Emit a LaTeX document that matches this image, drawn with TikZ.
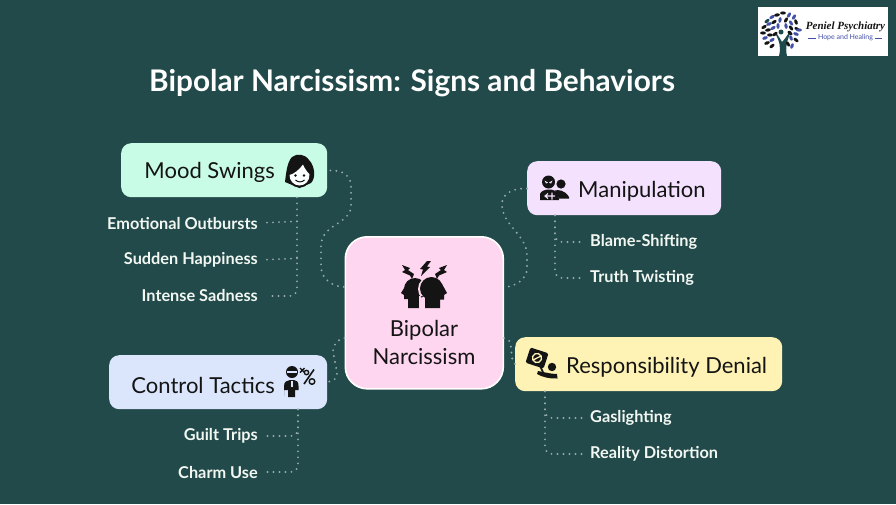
\documentclass[tikz,border=0pt]{standalone}
\usepackage{fontspec}
\setmainfont{Lato}
\newfontfamily\logofont{Liberation Serif}
\usetikzlibrary{calc}
\definecolor{bgc}{HTML}{224A4A}
\definecolor{dotc}{HTML}{93ABA8}
\definecolor{moodc}{HTML}{C8FCE6}
\definecolor{centc}{HTML}{FFD6EF}
\definecolor{manic}{HTML}{F3E1FD}
\definecolor{respc}{HTML}{FEF3B4}
\definecolor{ctrlc}{HTML}{DBE6FD}
\definecolor{subc}{HTML}{F2F7F2}
\definecolor{inkc}{HTML}{141414}
\definecolor{logob}{HTML}{4350A8}
\definecolor{logot}{HTML}{1F4A4C}
\tikzset{
  x=1pt,y=-1pt,
  boxn/.style={rounded corners=10pt,inner sep=0pt,anchor=north west},
  lab/.style={font=\fontsize{22}{25}\selectfont,text=inkc,inner sep=0pt},
  subr/.style={font=\fontsize{16.3}{19}\selectfont\bfseries,text=subc,inner sep=0pt,anchor=east},
  subl/.style={font=\fontsize{16.3}{19}\selectfont\bfseries,text=subc,inner sep=0pt,anchor=west},
  dotbase/.style={draw=dotc,line width=2.1pt,line cap=round,dash pattern=on 0pt off 6pt},
  dotl/.style={dotbase,rounded corners=7pt},
  dotb/.style={dotl,shorten >=8pt},
}
\begin{document}
\begin{tikzpicture}
\useasboundingbox (0,0) rectangle (896,504);
\fill[bgc] (0,0) rectangle (896,504);

% title
\node[inner sep=0pt,text=white,font=\fontsize{29.8}{32}\selectfont\bfseries] (title) at (412,83) {Bipolar Narcissism: Signs and Behaviors};

% boxes
\node[boxn,fill=moodc,minimum width=206pt,minimum height=54pt] (mood) at (121,143) {};
\node[boxn,fill=manic,minimum width=194pt,minimum height=54pt] (mani) at (527,161) {};
\node[boxn,fill=respc,minimum width=267pt,minimum height=54pt] (resp) at (515,337) {};
\node[boxn,fill=ctrlc,minimum width=218pt,minimum height=54pt] (ctrl) at (109,355) {};
\node[boxn,fill=centc,draw=white,line width=1.6pt,rounded corners=22pt,minimum width=158pt,minimum height=152pt] (cent) at (344.5,236) {};

% box labels
\node[lab,anchor=east] (moodt) at (275,172.5) {Mood Swings};
\node[lab,anchor=west] (manit) at (578,191.5) {Manipulation};
\node[lab,anchor=west] (respt) at (566,367) {Responsibility Denial};
\node[lab,anchor=east] (ctrlt) at (275,385) {Control Tactics};
\node[lab,align=center,font=\fontsize{22}{28}\selectfont] (centt) at (424,342) {Bipolar\\Narcissism};

% sub labels
\node[subr] (s1) at (258,223) {Emotional Outbursts};
\node[subr] (s2) at (258,260) {Sudden Happiness};
\node[subr] (s3) at (258,296) {Intense Sadness};
\node[subl] (s4) at (590,242) {Blame-Shifting};
\node[subl] (s5) at (590,278) {Truth Twisting};
\node[subl] (s6) at (590,418) {Gaslighting};
\node[subl] (s7) at (590,454) {Reality Distortion};
\node[subr] (s8) at (258,436) {Guilt Trips};
\node[subr] (s9) at (258,472) {Charm Use};

% trunk anchors
\coordinate (moodb) at ($(mood.south west)+(176,0)$);
\coordinate (manib) at ($(mani.south west)+(28,0)$);
\coordinate (respb) at ($(resp.south west)+(30,0)$);
\coordinate (ctrlb) at ($(ctrl.south west)+(189,0)$);

% trunks and branches
\draw[dotb,shorten >=12pt] (moodb) |- (s3.east);
\draw[dotb] ($(moodb)+(0,24)$) -- (s1.east);
\draw[dotb] ($(moodb)+(0,61)$) -- (s2.east);
\draw[dotb] (manib) |- (s4.west);
\draw[dotb] (manib) |- (s5.west);
\draw[dotb] (respb) |- (s6.west);
\draw[dotb] (respb) |- (s7.west);
\draw[dotb] (ctrlb) |- (s8.east);
\draw[dotb] (ctrlb) |- (s9.east);

% connectors to centre
\draw[dotbase]
  (mood.east |- moodt) ++(3,-2) .. controls (343,170) and (351,176) .. (351,186)
  -- (351,206) .. controls (351,224) and (321,224) .. (321,246)
  -- (321,266) .. controls (321,280) and (334,287) .. (cent.west |- 345,287);
\draw[dotbase]
  (mani.west |- manit) ++(0,-3) .. controls (512,188) and (502,194) .. (502,204)
  .. controls (502,226) and (527,234) .. (527,256)
  -- (527,268) .. controls (527,280) and (514,287) .. (cent.east |- 503,287);
\draw[dotbase]
  (cent.west |- 345,338) .. controls (338,339) and (333,344) .. (333,352)
  -- (337,372) .. controls (338,378) and (334,381) .. (ctrl.east |- 327,382);
\draw[dotbase]
  (cent.east |- 503,338) .. controls (509,339) and (511,342) .. (511,348)
  -- (512,358) -- (resp.west |- 515,364);

% ---- centre icon
\fill[inkc] (415,289) circle (11);
\fill[inkc] (421,296) -- (421,308) -- (408,308) -- (408,299) -- (404,299) -- (404,295) -- (401,293) -- (406,285) -- cycle;
\fill[centc] (431,289) circle (13) (419,296) rectangle (424,309);
\fill[inkc] (431.5,288.5) circle (11.5);
\fill[inkc] (425,295) -- (425,308) -- (440,308) -- (440,299.5) -- (444,299.5) -- (444,295) -- (447,293) -- (442,284) -- cycle;
\fill[inkc] (427,261) -- (420,269) -- (423,269.5) -- (421,276) -- (430,267) -- (427,266.5) -- (431,261) -- cycle;
\fill[inkc] (402,265) -- (410,268) -- (408,270) -- (414,274) -- (412,279) -- (410,275.5) -- (402,272) -- (405,270) -- cycle;
\fill[inkc] (447,265) -- (439,268) -- (441,270) -- (435,274) -- (437,279) -- (439,275.5) -- (447,272) -- (444,270) -- cycle;

% ---- mood icon
\fill[inkc] (285,182) .. controls (286,174) and (287,162) .. (292,157)
  .. controls (297,153) and (305,154) .. (309,160) .. controls (315,166) and (316,178) .. (311,183)
  -- (299.5,188) -- cycle;
\fill[inkc] (299.5,175.5) circle (12);
\fill[white!92!moodc] (289.5,175) .. controls (294,174) and (299,170) .. (303,164.5) .. controls (305,169) and (307,172) .. (309.5,174)
   .. controls (310,181) and (305,185.5) .. (299.5,185.5) .. controls (294,185.5) and (289.5,181) .. (289.5,175) -- cycle;
\fill[inkc] (295.5,175.5) circle (1.3) (304,175.5) circle (1.3);
\draw[inkc,line width=1pt] (295.5,180) .. controls (298,182.5) and (302,182.5) .. (304.5,180);

% ---- manipulation icon
\fill[inkc] (548.5,182) circle (6.5);
\fill[manic] (544.5,180.5) -- (548,182.5) -- (546,183.5) -- cycle (552.5,180.5) -- (549,182.5) -- (551,183.5) -- cycle;
\fill[inkc] (561,184) circle (4.6);
\fill[inkc] (540,200) -- (540,194) .. controls (541,191) and (545,189.5) .. (549,189.5) .. controls (553,189.5) and (556,191) .. (558,193) -- (559,200) -- cycle;
\fill[inkc] (555,190.5) .. controls (558,189.5) and (565,190) .. (569,197) -- (569,198.5) -- (559,198.5) -- cycle;
\draw[manic,line width=1.1pt] (545,196) -- (555,196) (548,193.5) -- (545,196) -- (548,198.5) (552,192.5) -- (552,199.5);

% ---- responsibility icon
\begin{scope}[shift={(537,358)},rotate=-18]
\fill[inkc,rounded corners=1.5pt] (-9.5,-8) rectangle (9.5,8);
\draw[respc,line width=1.3pt] (0,0) circle (4.6) (-3,3) -- (3,-3);
\end{scope}
\draw[inkc,line width=1.6pt] (540,366) -- (543,372);
\fill[inkc] (552,367) circle (4.2);
\fill[inkc] (538,371) .. controls (544,372) and (550,374) .. (557,374) -- (557.5,378.5) .. controls (550,379) and (542,377) .. (537,374) -- cycle;

% ---- control icon
\fill[inkc] (292,372) circle (6);
\fill[ctrlc] (287,371) rectangle (297,372.8);
\fill[inkc] (284,396) -- (284,386) .. controls (284,382) and (287,380) .. (290,380) -- (294,380) .. controls (297,380) and (298.5,382) .. (298.5,386) -- (298.5,390) -- (295,390) -- (295,397) -- (288,397) -- (288,390) -- (284,390) -- cycle;
\fill[ctrlc] (290.5,381) rectangle (292.5,387);
\draw[inkc,line width=1.4pt] (300,368) -- (304.5,372.5) (304.5,368) -- (300,372.5);
\draw[inkc,line width=1.6pt] (304,384) -- (314,369.5);
\draw[inkc,line width=1.4pt] (306.5,372.5) circle (2.2) (312,381.5) circle (2.8);

% ---- logo
\fill[white] (758,7) rectangle (888,56);
\fill[logot] (779,56) .. controls (781,48) and (780,42) .. (775,33) -- (776,32.5) .. controls (779,37) and (781,40) .. (782,42) .. controls (784,40) and (787,36) .. (790,31) -- (791,31.5) .. controls (787,40) and (785,48) .. (787,56) -- cycle;
\fill[logot] (781,32) circle (2.5);
\foreach \px/\py/\ang/\col in {
 767/21/40/logot,772/17/30/logob,777/15/10/inkc,783/13/0/inkc,789/15/60/logob,794/17/60/logob,
 764/27/30/inkc,769/24/20/logob,774/22/30/inkc,780/20/80/logob,786/20/60/inkc,791/23/120/logob,796/22/110/inkc,
 763/33/0/inkc,768/30/10/inkc,773/28/30/logob,778/26/90/logob,786/26/100/logob,791/28/130/inkc,797/29/150/inkc,
 765/38/20/logob,770/35/0/inkc,775/34/40/inkc,790/33/140/inkc,796/34/160/logob,799/30/0/logob,
 767/43/20/inkc,772/40/30/logob,791/38/110/logob,796/40/140/inkc,
 772/46/40/inkc,788/44/120/inkc,792/46/70/logob}{
  \fill[\col,rotate around={\ang:(\px,\py)}] (\px,\py) ellipse (2.9 and 1.6);
}
\node[inner sep=0pt,text=inkc,font=\logofont\fontsize{11}{12}\selectfont\bfseries\itshape] (lg1) at (845.5,27) {Peniel Psychiatry};
\node[inner sep=1.5pt,text=logob,font=\fontsize{7}{8}\selectfont] (lg2) at (845.5,38) {Hope and Healing};
\draw[logob,line width=.4pt] (808,38) -- (lg2.west);
\draw[logob,line width=.4pt] (lg2.east) -- (882,38);
\end{tikzpicture}
\end{document}
